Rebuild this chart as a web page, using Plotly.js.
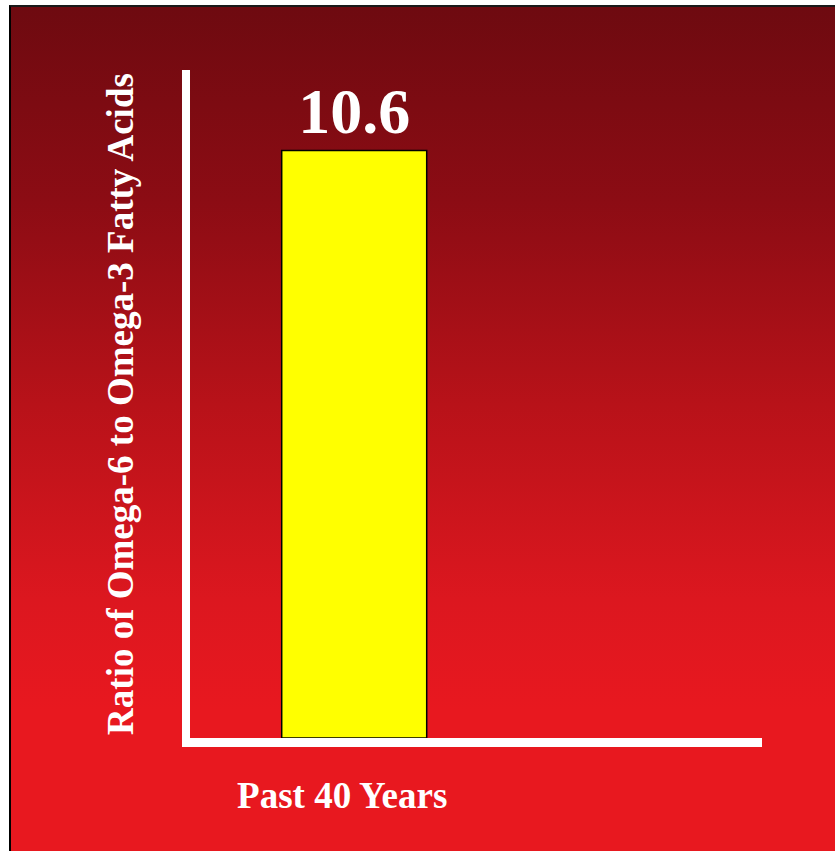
<!DOCTYPE html>
<html>
<head>
<meta charset="utf-8">
<script src="https://cdn.plot.ly/plotly-3.0.1.min.js"></script>
<style>
  html, body { margin: 0; padding: 0; background: #ffffff; }
  #frame {
    position: absolute; left: 9px; top: 5px; width: 826px; height: 846px;
    border-left: 2px solid #000; border-top: 2px solid #1a1a1a;
    background: linear-gradient(to bottom, #6E0A10 0%, #8C0C14 23%, #B81219 47%, #DC171F 70%, #E8181F 83%, #E8181F 100%);
  }
  #chart { position: absolute; left: 0; top: 0; width: 835px; height: 851px; }
</style>
</head>
<body>
<div id="frame"></div>
<div id="chart"></div>
<script>
const categories = ["Past 40 Years"];
const ratioValues = [10.6];
const yAxisTitle = "Ratio of Omega-6 to Omega-3 Fatty Acids";

const serif = "Liberation Serif, Times New Roman, serif";

const trace = {
  type: "bar",
  x: categories,
  y: ratioValues,
  width: 0.8,
  marker: { color: "#FFFF00", line: { color: "#000000", width: 1.5 } },
  text: ratioValues.map(v => v.toFixed(1)),
  textposition: "outside",
  textfont: { family: serif, size: 64, color: "#ffffff", weight: "bold" },
  cliponaxis: false,
  hoverinfo: "skip"
};

const layout = {
  width: 835, height: 851,
  paper_bgcolor: "rgba(0,0,0,0)",
  plot_bgcolor: "rgba(0,0,0,0)",
  margin: { l: 190, r: 73, t: 70, b: 113 },
  showlegend: false,
  xaxis: {
    type: "category",
    range: [-0.906, 2.25],
    showline: true, linecolor: "#ffffff", linewidth: 9,
    showgrid: false, zeroline: false, ticks: "",
    ticklabelshift: -12,
    ticklabelstandoff: 17,
    tickfont: { family: serif, size: 37, color: "#ffffff", weight: "bold" }
  },
  yaxis: {
    range: [0, 12.05],
    showline: true, linecolor: "#ffffff", linewidth: 8,
    showgrid: false, zeroline: false, ticks: "", showticklabels: false,
    automargin: false,
    title: { text: yAxisTitle, standoff: 40, font: { family: serif, size: 37, color: "#ffffff", weight: "bold" } }
  },
  bargap: 0.2
};

Plotly.newPlot("chart", [trace], layout, { staticPlot: true, displayModeBar: false });
</script>
</body>
</html>
